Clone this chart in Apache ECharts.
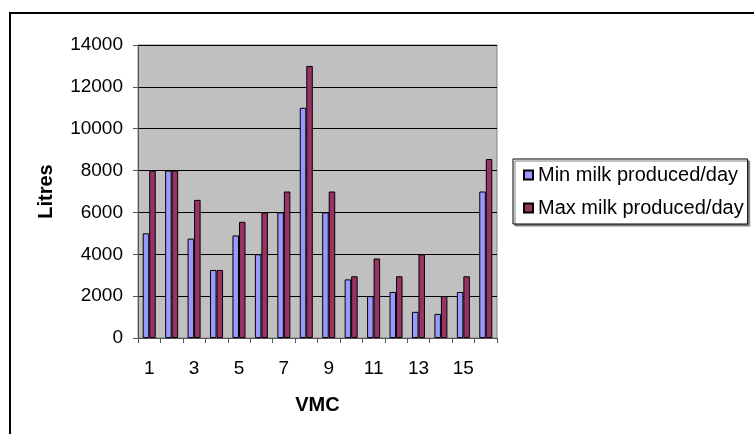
<!DOCTYPE html>
<html>
<head>
<meta charset="utf-8">
<script src="https://cdn.jsdelivr.net/npm/echarts@6/dist/echarts.min.js"></script>
<style>
  html, body { margin: 0; padding: 0; background: #fff; }
  #chart { width: 754px; height: 434px; }
</style>
</head>
<body>
<div id="chart"></div>
<script>
// VMC numbers 1..16
var vmc = ['1', '2', '3', '4', '5', '6', '7', '8', '9', '10', '11', '12', '13', '14', '15', '16'];
// litres per day
var minMilk = [5000, 8000, 4750, 3250, 4900, 4000, 6000, 11000, 6000, 2800, 2000, 2200, 1250, 1150, 2200, 7000];
var maxMilk = [8000, 8000, 6600, 3250, 5550, 6000, 7000, 13000, 7000, 2950, 3800, 2950, 4000, 2000, 2950, 8550];
var seriesNames = ['Min milk produced/day', 'Max milk produced/day'];

var font = '"Liberation Sans", Arial, sans-serif';
var chart = echarts.init(document.getElementById('chart'));

chart.setOption({
  animation: false,
  textStyle: { fontFamily: font, color: '#000' },
  graphic: [{
    type: 'rect',
    shape: { x: 10, y: 13, width: 800, height: 500 },
    style: { fill: 'none', stroke: '#000', lineWidth: 2 },
    silent: true
  }],
  grid: {
    left: 138, top: 45, width: 359, height: 293,
    show: true,
    backgroundColor: '#C0C0C0',
    borderColor: '#808080',
    borderWidth: 1
  },
  legend: {
    orient: 'vertical',
    left: 513, top: 159,
    data: seriesNames,
    icon: 'rect',
    itemWidth: 9, itemHeight: 9,
    itemGap: 13,
    padding: [6, 4, 6, 10],
    borderColor: '#000',
    borderWidth: 1,
    backgroundColor: '#fff',
    shadowColor: '#808080',
    shadowBlur: 0,
    shadowOffsetX: 2,
    shadowOffsetY: 2,
    textStyle: { fontFamily: font, fontSize: 20, lineHeight: 20, color: '#000' }
  },
  xAxis: {
    type: 'category',
    data: vmc,
    name: 'VMC',
    nameLocation: 'middle',
    nameGap: 57,
    nameTextStyle: { fontFamily: font, fontSize: 20, fontWeight: 'bold', color: '#000' },
    axisLine: { lineStyle: { color: '#555', width: 1 } },
    axisTick: { show: true, length: 5, interval: 0, lineStyle: { color: '#555' } },
    axisLabel: { interval: 1, margin: 21, fontSize: 19, color: '#000', fontFamily: font },
    splitLine: { show: false }
  },
  yAxis: {
    type: 'value',
    min: 0, max: 14000, interval: 2000,
    name: 'Litres',
    nameLocation: 'middle',
    nameGap: 82,
    nameTextStyle: { fontFamily: font, fontSize: 20, fontWeight: 'bold', color: '#000' },
    axisLine: { show: true, lineStyle: { color: '#555', width: 1 } },
    axisTick: { show: true, length: 5, lineStyle: { color: '#555' } },
    axisLabel: {
      margin: 15, fontSize: 19, color: '#000', fontFamily: font,
      formatter: function (v) { return String(v); }
    },
    splitLine: { show: true, lineStyle: { color: '#000', width: 1 } }
  },
  series: [{
    name: seriesNames[0],
    type: 'bar',
    data: minMilk,
    barGap: '0%',
    barCategoryGap: '42%',
    itemStyle: { color: '#9999FF', borderColor: '#000', borderWidth: 1 }
  }, {
    name: seriesNames[1],
    type: 'bar',
    data: maxMilk,
    barGap: '0%',
    barCategoryGap: '42%',
    itemStyle: { color: '#993366', borderColor: '#000', borderWidth: 1 }
  }]
});
</script>
</body>
</html>
